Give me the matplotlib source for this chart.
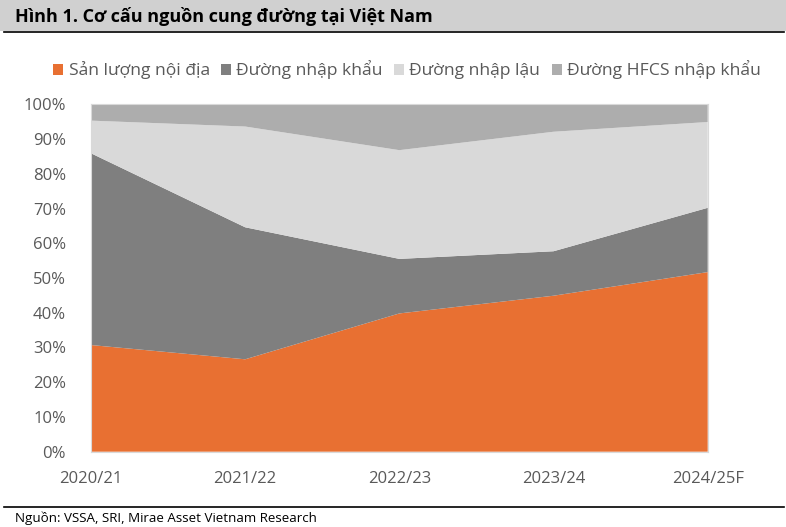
import matplotlib.pyplot as plt
from matplotlib.patches import Rectangle
from matplotlib.lines import Line2D
from matplotlib.ticker import FuncFormatter

# ---- data (share of supply, %) ----
years = ["2020/21", "2021/22", "2022/23", "2023/24", "2024/25F"]
domestic = [30.7, 26.6, 39.8, 44.9, 51.7]
imported = [55.2, 38.0, 15.7, 12.8, 18.5]
smuggled = [9.4, 29.0, 31.3, 34.4, 24.7]
hfcs = [4.7, 6.4, 13.2, 7.9, 5.1]
labels = ["Sản lượng nội địa", "Đường nhập khẩu", "Đường nhập lậu", "Đường HFCS nhập khẩu"]
colors = ["#E87032", "#7F7F7F", "#D9D9D9", "#ADADAD"]

plt.rcParams["font.family"] = ["Open Sans", "DejaVu Sans"]
text_col = "#595959"

fig = plt.figure(figsize=(7.86, 5.27), dpi=100)

# title bar
fig.patches.append(Rectangle((0, 1 - 31 / 527), 1, 31 / 527, transform=fig.transFigure,
                             facecolor="#D0D0D0", edgecolor="none", zorder=0))
fig.lines.append(Line2D([4 / 786, 784 / 786], [1 - 32 / 527] * 2, transform=fig.transFigure,
                        color="black", lw=1.2))
fig.text(15 / 786, 1 - 16 / 527, "Hình 1. Cơ cấu nguồn cung đường tại Việt Nam",
         family=["Liberation Sans Narrow", "Open Sans"], fontweight="bold",
         fontsize=13, color="black", va="center", ha="left")

# source
fig.lines.append(Line2D([4 / 786, 784 / 786], [1 - 507 / 527] * 2, transform=fig.transFigure,
                        color="black", lw=1.2))
fig.text(15 / 786, 1 - 518 / 527, "Nguồn: VSSA, SRI, Mirae Asset Vietnam Research",
         fontsize=9.6, color="black", va="center", ha="left")

ax = fig.add_axes([91 / 786, 75.3 / 527, 616.7 / 786, 347.4 / 527])
x = range(len(years))
ax.stackplot(x, domestic, imported, smuggled, hfcs, colors=colors, labels=labels,
             edgecolor="none")
ax.set_xlim(0, len(years) - 1)
ax.set_ylim(0, 100)
ax.set_yticks(range(0, 101, 10))
ax.yaxis.set_major_formatter(FuncFormatter(lambda v, p: f"{int(v)}%"))
ax.set_xticks(list(x))
ax.set_xticklabels(years)
ax.tick_params(axis="both", length=0, labelsize=12, colors=text_col)
ax.tick_params(axis="x", pad=14)
ax.tick_params(axis="y", pad=18)
for s in ax.spines.values():
    s.set_color("#D9D9D9")
    s.set_linewidth(0.8)

ax.legend(loc="center", bbox_to_anchor=(407 / 786, 1 - 70 / 527), bbox_transform=fig.transFigure,
          ncol=4, frameon=False, fontsize=12.6, labelcolor=text_col,
          handlelength=0.57, handleheight=0.57, handletextpad=0.3, columnspacing=0.65,
          borderpad=0, borderaxespad=0)

fig.savefig("out.png", dpi=100)
